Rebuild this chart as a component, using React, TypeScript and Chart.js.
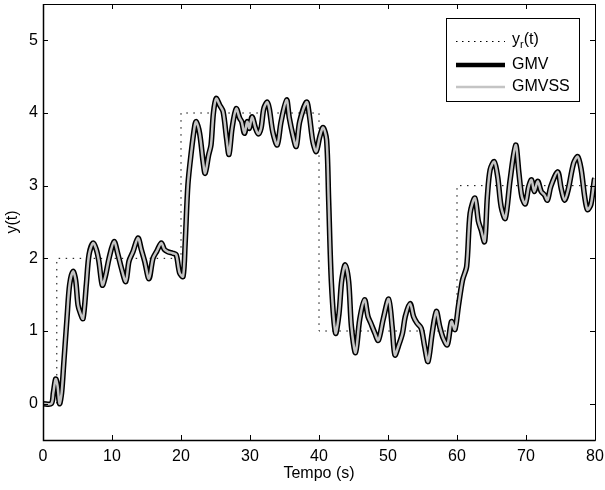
import React, { useEffect, useRef } from "react";
import { Chart, registerables } from "chart.js";

Chart.register(...registerables);

// ---- data ----
const tempo = [
  0, 1.2, 1.5, 1.84, 2.1, 2.4, 2.7, 3.0, 3.48, 3.86, 4.35, 4.73, 5.07, 5.4, 5.8, 6.28, 6.67, 7.25, 7.73, 8.1,
  8.6, 9.08, 9.57, 10.3, 10.87, 11.35, 12.0, 12.46, 13.04, 13.77, 14.25, 14.73, 15.36, 15.94, 16.5, 17.15, 17.6, 18.1, 18.8, 19.3,
  19.8, 20.3, 20.6, 21.0, 21.5, 22.0, 22.2, 22.7, 23.2, 23.5, 24.0, 24.35, 24.7, 25.1, 25.6, 26.1, 26.6, 26.96, 27.4, 28.0,
  28.5, 28.8, 29.2, 29.6, 29.9, 30.3, 30.8, 31.2, 31.6, 32.0, 32.5, 32.8, 33.3, 33.95, 34.5, 35.3, 35.7, 36.2, 36.7, 37.2,
  38.2, 38.6, 39.1, 39.6, 40.1, 40.6, 41.1, 41.4, 41.8, 42.4, 42.9, 43.3, 43.8, 44.3, 44.7, 45.3, 45.9, 46.6, 47.1, 47.5,
  48.1, 48.6, 49.3, 50.1, 50.6, 51.0, 51.5, 52.1, 52.5, 53.2, 53.7, 54.2, 54.8, 55.3, 55.8, 56.4, 57.0, 57.5, 58.0, 58.6,
  59.2, 59.7, 60.2, 60.8, 61.4, 61.9, 62.6, 63.1, 63.5, 64.0, 64.4, 64.8, 65.4, 65.9, 66.4, 67.0, 67.7, 68.5, 68.98, 69.4,
  69.9, 70.4, 70.8, 71.2, 71.7, 72.2, 72.7, 73.1, 73.6, 74.6, 75.1, 75.6, 76.1, 76.9, 77.5, 78.0, 78.5, 78.9, 79.4, 79.9,
  80,
];

const gmv = [
  0, 0, 0.15, 0.34, 0.25, 0.0, 0.15, 0.54, 1.18, 1.64, 1.82, 1.7, 1.36, 1.25, 1.17, 1.64, 2.05, 2.21, 2.12, 1.96,
  1.63, 1.77, 2.0, 2.23, 2.05, 1.87, 1.68, 1.96, 2.09, 2.28, 2.12, 1.96, 1.72, 2.0, 2.1, 2.21, 2.12, 2.09, 2.07, 2.05,
  1.8, 1.75, 2.2, 3.01, 3.47, 3.83, 3.88, 3.72, 3.33, 3.17, 3.42, 3.56, 4.0, 4.2, 4.11, 4.02, 3.65, 3.43, 3.79, 4.06,
  3.93, 3.88, 3.72, 3.88, 3.79, 3.95, 3.79, 3.71, 3.79, 4.06, 4.15, 4.06, 3.74, 3.56, 3.88, 4.18, 3.93, 3.7, 3.54, 3.88,
  4.15, 3.97, 3.61, 3.47, 3.67, 3.8, 3.63, 2.8, 1.66, 0.97, 1.24, 1.7, 1.91, 1.68, 1.06, 0.7, 1.16, 1.43, 1.2, 1.11,
  0.97, 0.87, 1.16, 1.44, 1.06, 0.67, 0.79, 0.97, 1.2, 1.38, 1.2, 1.11, 1.04, 0.79, 0.58, 0.97, 1.27, 1.06, 0.9, 0.81,
  1.13, 1.02, 1.34, 1.7, 1.89, 2.62, 2.83, 2.51, 2.39, 2.23, 2.85, 3.22, 3.33, 3.12, 2.71, 2.55, 3.08, 3.56, 3.17, 2.85,
  2.75, 2.99, 3.08, 2.92, 3.06, 2.92, 2.87, 2.8, 2.99, 3.19, 2.96, 2.8, 2.94, 3.31, 3.4, 3.22, 2.85, 2.67, 2.74, 3.08,
  3.1,
];

const gmvss = [
  0, 0, 0.15, 0.34, 0.25, 0.0, 0.15, 0.54, 1.18, 1.64, 1.82, 1.7, 1.36, 1.25, 1.17, 1.64, 2.05, 2.21, 2.12, 1.96,
  1.63, 1.77, 2.0, 2.23, 2.05, 1.87, 1.68, 1.96, 2.09, 2.28, 2.12, 1.96, 1.72, 2.0, 2.1, 2.21, 2.12, 2.09, 2.07, 2.05,
  1.8, 1.75, 2.2, 3.01, 3.47, 3.83, 3.88, 3.72, 3.33, 3.17, 3.42, 3.56, 4.0, 4.2, 4.11, 4.02, 3.65, 3.43, 3.79, 4.06,
  3.93, 3.88, 3.72, 3.88, 3.79, 3.95, 3.79, 3.71, 3.79, 4.06, 4.15, 4.06, 3.74, 3.56, 3.88, 4.18, 3.93, 3.7, 3.54, 3.88,
  4.15, 3.97, 3.61, 3.47, 3.67, 3.8, 3.63, 2.8, 1.66, 0.97, 1.24, 1.7, 1.91, 1.68, 1.06, 0.7, 1.16, 1.43, 1.2, 1.11,
  0.97, 0.87, 1.16, 1.44, 1.06, 0.67, 0.79, 0.97, 1.2, 1.38, 1.2, 1.11, 1.04, 0.79, 0.58, 0.97, 1.27, 1.06, 0.9, 0.81,
  1.13, 1.02, 1.34, 1.7, 1.89, 2.62, 2.83, 2.51, 2.39, 2.23, 2.85, 3.22, 3.33, 3.12, 2.71, 2.55, 3.08, 3.56, 3.17, 2.85,
  2.75, 2.99, 3.08, 2.92, 3.06, 2.92, 2.87, 2.8, 2.99, 3.19, 2.96, 2.8, 2.94, 3.31, 3.4, 3.22, 2.85, 2.67, 2.74, 3.08,
  3.1,
];

const refTempo = [0, 2, 2, 20, 20, 40, 40, 60, 60, 80];
const refValues = [0, 0, 2, 2, 4, 4, 1, 1, 3, 3];

const xTicks = [0, 10, 20, 30, 40, 50, 60, 70, 80];
const yTicks = [0, 1, 2, 3, 4, 5];

const xTitle = "Tempo (s)";
const yTitle = "y(t)";
const seriesNames = ["GMV", "GMVSS"];

const FONT = "'Liberation Sans', Arial, Helvetica, sans-serif";
const GRAY = "#c4c4c4";

const framePlugin = {
  id: "matlabFrame",
  afterDatasetsDraw(chart: any) {
    const { ctx, chartArea } = chart;
    const { left, right, top, bottom } = chartArea;
    const xs = chart.scales.x;
    const ys = chart.scales.y;
    ctx.save();
    ctx.strokeStyle = "#000";
    ctx.lineWidth = 1;
    ctx.beginPath();
    ctx.rect(left + 0.5, top + 0.5, right - left, bottom - top);
    ctx.stroke();
    ctx.lineWidth = 1.5;
    ctx.beginPath();
    ctx.moveTo(left + 0.5, top);
    ctx.lineTo(left + 0.5, bottom + 0.5);
    ctx.lineTo(right + 0.5, bottom + 0.5);
    ctx.stroke();
    const tl = 5;
    ctx.lineWidth = 1;
    ctx.beginPath();
    xTicks.forEach((v) => {
      const px = Math.round(xs.getPixelForValue(v)) + 0.5;
      ctx.moveTo(px, bottom);
      ctx.lineTo(px, bottom - tl);
      ctx.moveTo(px, top);
      ctx.lineTo(px, top + tl);
    });
    yTicks.forEach((v) => {
      const py = Math.round(ys.getPixelForValue(v)) + 0.5;
      ctx.moveTo(left, py);
      ctx.lineTo(left + tl, py);
      ctx.moveTo(right, py);
      ctx.lineTo(right - tl, py);
    });
    ctx.stroke();

    // legend box
    const bx = 446.5, by = 18.5, bw = 133, bh = 83;
    ctx.fillStyle = "#fff";
    ctx.fillRect(bx, by, bw, bh);
    ctx.strokeStyle = "#000";
    ctx.lineWidth = 1;
    ctx.strokeRect(bx, by, bw, bh);

    const lx0 = 456, lx1 = 505, tx = 512;
    const rows = [41, 65, 87];
    // reference (dotted)
    ctx.save();
    ctx.setLineDash([1.5, 4.5]);
    ctx.lineWidth = 1;
    ctx.beginPath();
    ctx.moveTo(lx0, rows[0] + 0.5);
    ctx.lineTo(lx1, rows[0] + 0.5);
    ctx.stroke();
    ctx.restore();
    // GMV
    ctx.lineWidth = 4.5;
    ctx.strokeStyle = "#000";
    ctx.beginPath();
    ctx.moveTo(lx0, rows[1]);
    ctx.lineTo(lx1, rows[1]);
    ctx.stroke();
    // GMVSS
    ctx.lineWidth = 2.5;
    ctx.strokeStyle = GRAY;
    ctx.beginPath();
    ctx.moveTo(lx0, rows[2]);
    ctx.lineTo(lx1, rows[2]);
    ctx.stroke();

    ctx.fillStyle = "#000";
    ctx.textBaseline = "middle";
    ctx.textAlign = "left";
    ctx.font = `16px ${FONT}`;
    ctx.fillText("y", tx, rows[0] - 1);
    const yw = ctx.measureText("y").width;
    ctx.font = `11px ${FONT}`;
    ctx.fillText("r", tx + yw, rows[0] + 4);
    const rw = ctx.measureText("r").width;
    ctx.font = `16px ${FONT}`;
    ctx.fillText("(t)", tx + yw + rw, rows[0] - 1);
    ctx.fillText(seriesNames[0], tx, rows[1]);
    ctx.fillText(seriesNames[1], tx, rows[2]);
    ctx.restore();
  },
};

export default function App() {
  const ref = useRef<HTMLCanvasElement | null>(null);
  useEffect(() => {
    document.body.style.margin = "0";
    const canvas = ref.current!;
    const toPts = (xsArr: number[], ysArr: number[]) => xsArr.map((x, i) => ({ x, y: ysArr[i] }));
    const chart = new Chart(canvas, {
      type: "line",
      data: {
        datasets: [
          {
            label: "yr(t)",
            data: toPts(refTempo, refValues),
            borderColor: "#000",
            borderWidth: 1,
            borderDash: [1.5, 5.5],
            pointRadius: 0,
            tension: 0,
            order: 3,
          },
          {
            label: seriesNames[0],
            data: toPts(tempo, gmv),
            borderColor: "#000",
            borderWidth: 5.5,
            pointRadius: 0,
            tension: 0.3,
            order: 2,
          },
          {
            label: seriesNames[1],
            data: toPts(tempo, gmvss),
            borderColor: GRAY,
            borderWidth: 2.5,
            pointRadius: 0,
            tension: 0.3,
            order: 1,
          },
        ],
      },
      options: {
        animation: false,
        responsive: false,
        maintainAspectRatio: false,
        layout: { padding: { top: 4, right: 10, left: 0, bottom: 0 } },
        plugins: { legend: { display: false }, tooltip: { enabled: false } },
        scales: {
          x: {
            type: "linear",
            min: 0,
            max: 80,
            afterBuildTicks: (s: any) => {
              s.ticks = xTicks.map((v) => ({ value: v }));
            },
            afterFit: (s: any) => {
              s.height = 50;
              s.paddingLeft = 0;
              s.paddingRight = 0;
              s.paddingTop = 0;
              s.paddingBottom = 0;
            },
            grid: { display: false, drawTicks: false },
            border: { display: false },
            ticks: {
              color: "#000",
              font: { family: FONT, size: 16 },
              padding: 7,
              maxRotation: 0,
              autoSkip: false,
            },
            title: {
              display: true,
              text: xTitle,
              color: "#000",
              font: { family: FONT, size: 16 },
              padding: { top: 0, bottom: 7 },
            },
          },
          y: {
            type: "linear",
            min: -0.5,
            max: 5.5,
            afterBuildTicks: (s: any) => {
              s.ticks = yTicks.map((v) => ({ value: v }));
            },
            afterFit: (s: any) => {
              s.width = 43;
              s.paddingLeft = 0;
              s.paddingRight = 0;
              s.paddingTop = 0;
              s.paddingBottom = 0;
            },
            grid: { display: false, drawTicks: false },
            border: { display: false },
            ticks: {
              color: "#000",
              font: { family: FONT, size: 16 },
              padding: 5,
              autoSkip: false,
            },
            title: {
              display: true,
              text: yTitle,
              color: "#000",
              font: { family: FONT, size: 16 },
              padding: { top: 3, bottom: 0 },
            },
          },
        },
      },
      plugins: [framePlugin],
    });
    return () => chart.destroy();
  }, []);
  return (
    <div style={{ width: 605, height: 490, background: "#fff" }}>
      <canvas ref={ref} width={605} height={490} style={{ display: "block" }} />
    </div>
  );
}
